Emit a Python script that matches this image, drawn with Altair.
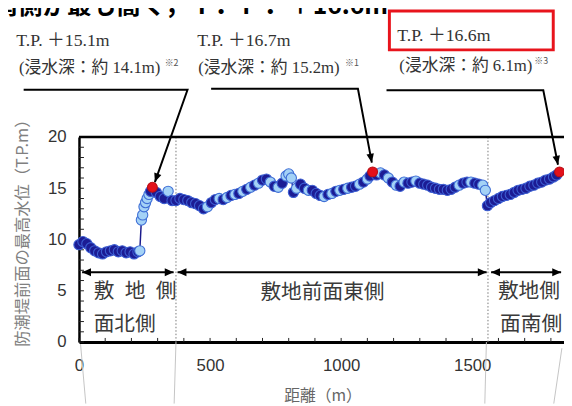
import altair as alt
import pandas as pd

# ---------------- data ----------------
dist = [0, 15, 30, 45, 60, 75, 90, 105, 120, 135, 150, 165, 180, 195, 210, 225, 232,
        238, 243, 248, 254, 260, 267, 273, 280,
        295, 310, 325, 340, 355, 370, 385, 400, 415, 430, 445, 460, 475, 490, 505, 520,
        535, 550, 565, 580, 595, 610, 625, 640, 655, 670, 685, 700, 715, 730, 745, 760,
        775, 790, 800, 810, 818, 830, 845, 860, 875, 890, 905, 920, 935, 950, 965, 980,
        995, 1010, 1025, 1040, 1055, 1070, 1085, 1100, 1110, 1120, 1135, 1150, 1165, 1180,
        1195, 1210, 1225, 1240, 1255, 1270, 1285, 1300, 1315, 1330, 1345, 1360, 1375, 1390,
        1405, 1420, 1435, 1450, 1465, 1480, 1495, 1510, 1525, 1540, 1550,
        1558, 1570, 1585, 1600, 1615, 1630, 1645, 1660, 1675, 1690, 1705, 1720, 1735, 1750,
        1765, 1780, 1795, 1810, 1822, 1833]
level = [9.5, 9.8, 9.6, 9.2, 8.9, 8.7, 8.6, 8.8, 8.9, 9.0, 8.8, 8.9, 8.7, 8.8, 8.6, 8.8, 8.9,
         11.9, 12.4, 13.2, 13.6, 14.0, 14.4, 14.7, 15.1,
         14.6, 14.2, 14.0, 14.7, 13.8, 13.8, 14.0, 13.9, 13.8, 13.6, 13.5, 13.3, 13.0, 13.2, 13.6, 13.9,
         14.0, 13.9, 14.1, 14.3, 14.4, 14.5, 14.7, 14.9, 15.1, 15.3, 15.5, 15.8, 15.9, 15.6, 15.2, 15.1,
         15.5, 16.2, 16.4, 16.0, 14.6, 15.0, 15.4, 15.0, 14.8, 14.8, 14.5, 14.3, 14.2, 14.4, 14.5, 14.7,
         14.8, 14.9, 15.0, 15.1, 15.2, 15.4, 15.6, 15.9, 16.2, 16.6, 16.3, 16.5, 16.3, 16.0,
         15.6, 15.3, 15.2, 15.6, 15.5, 15.6, 15.7, 15.5, 15.4, 15.3, 15.1, 15.0, 14.9, 14.9,
         14.8, 14.9, 15.1, 15.3, 15.5, 15.6, 15.6, 15.5, 15.4, 15.3, 14.8,
         13.3, 13.6, 13.8, 14.0, 14.2, 14.3, 14.4, 14.6, 14.8, 14.9, 15.0, 15.2, 15.3, 15.5,
         15.6, 15.8, 15.9, 16.1, 16.3, 16.6]
kind = ["d"] * 16 + ["l"] + \
       ["l", "l", "l", "l", "l", "l", "d", "r"] + \
       ["d", "d", "d", "l", "d", "d", "d", "d", "d", "d", "d", "d", "d", "l", "d", "d",
        "l", "d", "l", "d", "l", "d", "l", "d", "l", "d", "l", "d", "d", "l", "d", "l",
        "d", "l", "l", "l", "d", "l", "d", "d", "l", "d", "d", "d", "l", "d", "l", "d",
        "l", "d", "l", "d", "d", "l", "d", "l", "d", "r", "d", "l", "d", "l",
        "d", "l", "d", "l", "d", "d", "l", "d", "d", "d", "d", "d", "d", "d",
        "d", "d", "d", "l", "d", "d", "l", "d", "d", "l", "l"] + \
       ["d"] * 19 + ["r"]

x_tick_values = [0, 500, 1000, 1500]
y_tick_values = [0, 5, 10, 15, 20]
minor_y = list(range(0, 21))
minor_x = list(range(0, 1900, 100))
section_bounds = [370, 1560]

# section double arrows (distance along the wall)
seg_start = [12, 376, 1572]
seg_end = [361, 1555, 1839]
seg_level = 6.8
sec_text = ["敷\u2002地\u2002側", "面北側", "敷地前面東側", "敷地側", "面南側"]
sec_x = [56, 56, 692, 1598, 1606]
sec_y = [4.85, 1.7, 4.75, 4.85, 1.7]

# call-outs
ann_text = ["T.P. ＋15.1m", "(浸水深：約 14.1m)", "T.P. ＋16.7m", "(浸水深：約 15.2m)",
            "T.P. ＋16.6m", "(浸水深：約 6.1m)"]
ann_x = [-239, -229, 451, 455, 1214, 1222]
ann_y = [29.4, 26.7, 29.4, 26.7, 29.8, 26.9]
ann_size = [18, 17, 18, 17, 18, 17]
note_text = ["※2", "※1", "※3"]
note_x = [327, 1015, 1737]
note_y = [27.2, 27.2, 27.4]
lead_group = ["a", "a", "a", "b", "b", "b", "c", "c", "c"]
lead_seq = [0, 1, 2, 0, 1, 2, 0, 1, 2]
lead_x = [-211, 414, 289.5, 504, 1064, 1117, 1173, 1771, 1827]
lead_y = [24.6, 24.6, 15.6, 24.7, 24.7, 17.5, 24.55, 24.55, 17.3]
tip_x = [289.5, 1117, 1827]
tip_y = [15.6, 17.5, 17.3]
tip_angle = [19.4, 349.3, 348.8]
box_x = [1184]
box_x2 = [1809]
box_y = [32.3]
box_y2 = [28.5]
header_text = ["南側が最も高く，Ｔ．Ｐ．＋16.6m"]
header_x = [-327]
header_y = [31.95]

faint_x = [6, 370, 1554, 1842]
faint_x2 = [26, 363, 1548, 1811]
faint_y = [-0.2, 0, 0, -0.6]
faint_y2 = [-6, -6, -6, -6]

# ---------------- chart ----------------
XMAX = 1850
xs = alt.Scale(domain=[0, XMAX], nice=False, zero=False)
ys = alt.Scale(domain=[0, 20], nice=False, zero=False)
SERIF = "Liberation Serif, Noto Sans CJK JP"
CJK = "Noto Sans CJK JP"
NUM = "Liberation Sans Narrow, Liberation Sans, Arial"

x_axis = alt.Axis(values=x_tick_values, format="d", title="距離（m）", grid=False, ticks=False,
                  domain=True, domainColor="#000", domainWidth=3,
                  labelFont=NUM, labelFontSize=17, labelColor="#333", labelPadding=16,
                  labelFlush=False, labelOverlap=False,
                  titleFont=CJK, titleFontSize=16, titleFontWeight="normal",
                  titleColor="#666", titleX=247, titleY=54,
                  titleAlign="center", titleBaseline="middle")
y_axis = alt.Axis(values=y_tick_values, format="d", title="防潮堤前面の最高水位（T.P.m）", grid=False,
                  ticks=False, domain=True, domainColor="#000", domainWidth=2.5,
                  labelFont=NUM, labelFontSize=17, labelColor="#333", labelPadding=13,
                  labelFlush=False, labelOverlap=False,
                  titleFont=CJK, titleFontSize=16.5, titleFontWeight="normal",
                  titleColor="#808080", titleAngle=270, titleX=-57, titleY=93,
                  titleAlign="center", titleBaseline="middle")


def X(f):
    return alt.X(f, type="quantitative", scale=xs, axis=x_axis)


def Y(f):
    return alt.Y(f, type="quantitative", scale=ys, axis=y_axis)


df = pd.DataFrame({"dist": dist, "level": level, "kind": kind})
df["idx"] = range(len(df))

line = alt.Chart(df).mark_line(color="#1a1a8c", strokeWidth=1.5).encode(
    x=X("dist"), y=Y("level"), order="idx:Q",
)

fill_scale = alt.Scale(domain=["d", "l", "r"], range=["#1c1c94", "#a4d2f6", "#e3101b"])
stroke_scale = alt.Scale(domain=["d", "l", "r"], range=["#3c5ed2", "#3f6fd6", "#b81016"])

pts = alt.Chart(df).transform_filter(alt.datum.kind != "r").mark_point(
    filled=True, size=108, strokeWidth=1.1, opacity=1, fillOpacity=1
).encode(
    x=X("dist"), y=Y("level"),
    fill=alt.Fill("kind:N", scale=fill_scale, legend=None),
    stroke=alt.Stroke("kind:N", scale=stroke_scale, legend=None),
    order="idx:Q",
)
red = alt.Chart(df).transform_filter(alt.datum.kind == "r").mark_point(
    filled=True, size=100, strokeWidth=1.1, opacity=1, fillOpacity=1
).encode(
    x=X("dist"), y=Y("level"),
    fill=alt.Fill("kind:N", scale=fill_scale, legend=None),
    stroke=alt.Stroke("kind:N", scale=stroke_scale, legend=None),
)

# frame top border
top = alt.Chart(pd.DataFrame({"a": [0], "b": [XMAX], "y": [20]})).mark_rule(
    color="#000", strokeWidth=2.5).encode(x=X("a"), x2="b", y=Y("y"))

# inward minor ticks
yt = alt.Chart(pd.DataFrame({"y": minor_y, "a": [0] * len(minor_y), "b": [19] * len(minor_y)})).mark_rule(
    color="#222", strokeWidth=1).encode(x=X("a"), x2="b", y=Y("y"))
xt = alt.Chart(pd.DataFrame({"x": minor_x, "a": [0] * len(minor_x), "b": [0.4] * len(minor_x)})).mark_rule(
    color="#222", strokeWidth=1).encode(x=X("x"), y=Y("a"), y2="b")

# dotted section boundaries
dots = alt.Chart(pd.DataFrame({"x": section_bounds, "a": [0, 0], "b": [20, 20]})).mark_rule(
    color="#777", strokeWidth=1, strokeDash=[1.5, 2]).encode(x=X("x"), y=Y("a"), y2="b")

faint = alt.Chart(pd.DataFrame({"x": faint_x, "x2": faint_x2, "y": faint_y, "y2": faint_y2})).mark_rule(
    color="#c4c4c4", strokeWidth=1).encode(x=X("x"), x2="x2", y=Y("y"), y2="y2")

# section arrows
segdf = pd.DataFrame({"a": seg_start, "b": seg_end, "y": [seg_level] * 3})
segs = alt.Chart(segdf).mark_rule(color="#000", strokeWidth=2).encode(x=X("a"), x2="b", y=Y("y"))
lheads = alt.Chart(segdf).mark_point(shape="M0,0L1,-0.45L1,0.45Z", filled=True, size=324,
                                     color="#000", opacity=1).encode(x=X("a"), y=Y("y"))
rheads = alt.Chart(segdf).mark_point(shape="M0,0L-1,-0.45L-1,0.45Z", filled=True, size=324,
                                     color="#000", opacity=1).encode(x=X("b"), y=Y("y"))
sec = alt.Chart(pd.DataFrame({"t": sec_text, "x": sec_x, "y": sec_y})).mark_text(
    align="left", baseline="middle", font=CJK, fontSize=21, color="#3a3a3a").encode(
    x=X("x"), y=Y("y"), text="t:N")

# call-outs
leads = alt.Chart(pd.DataFrame({"g": lead_group, "s": lead_seq, "x": lead_x, "y": lead_y})).mark_line(
    color="#000", strokeWidth=2).encode(x=X("x"), y=Y("y"), detail="g:N", order="s:Q")
tips = alt.Chart(pd.DataFrame({"x": tip_x, "y": tip_y, "ang": tip_angle})).mark_point(
    shape="M0,0L-0.42,-1L0.42,-1Z", filled=True, size=324, color="#000", opacity=1).encode(
    x=X("x"), y=Y("y"), angle=alt.Angle("ang:Q", scale=None))
ann = alt.Chart(pd.DataFrame({"t": ann_text, "x": ann_x, "y": ann_y, "s": ann_size})).mark_text(
    align="left", baseline="middle", font=SERIF, color="#333").encode(
    x=X("x"), y=Y("y"), text="t:N", size=alt.Size("s:Q", scale=None, legend=None))
notes = alt.Chart(pd.DataFrame({"t": note_text, "x": note_x, "y": note_y})).mark_text(
    align="left", baseline="middle", font=CJK, fontSize=9, color="#555").encode(
    x=X("x"), y=Y("y"), text="t:N")
box = alt.Chart(pd.DataFrame({"a": box_x, "b": box_x2, "c": box_y, "d": box_y2})).mark_rect(
    fillOpacity=0, stroke="#e8141c", strokeWidth=3).encode(x=X("a"), x2="b", y=Y("c"), y2="d")
header = alt.Chart(pd.DataFrame({"t": header_text, "x": header_x, "y": header_y})).mark_text(
    align="left", baseline="alphabetic", font=CJK, fontSize=25, fontWeight="bold", color="#000").encode(
    x=X("x"), y=Y("y"), text="t:N")

chart = alt.layer(
    line, faint, dots, yt, xt, top, segs, lheads, rheads, sec, pts, red,
    leads, tips, ann, notes, box, header
).properties(
    width=492, height=208,
    autosize=alt.AutoSizeParams(type="none"),
    padding={"left": 72, "top": 128, "right": 0, "bottom": 62},
    background="#ffffff",
).configure_view(stroke=None)

chart.save("out.html", embed_options={"renderer": "svg", "actions": False})
